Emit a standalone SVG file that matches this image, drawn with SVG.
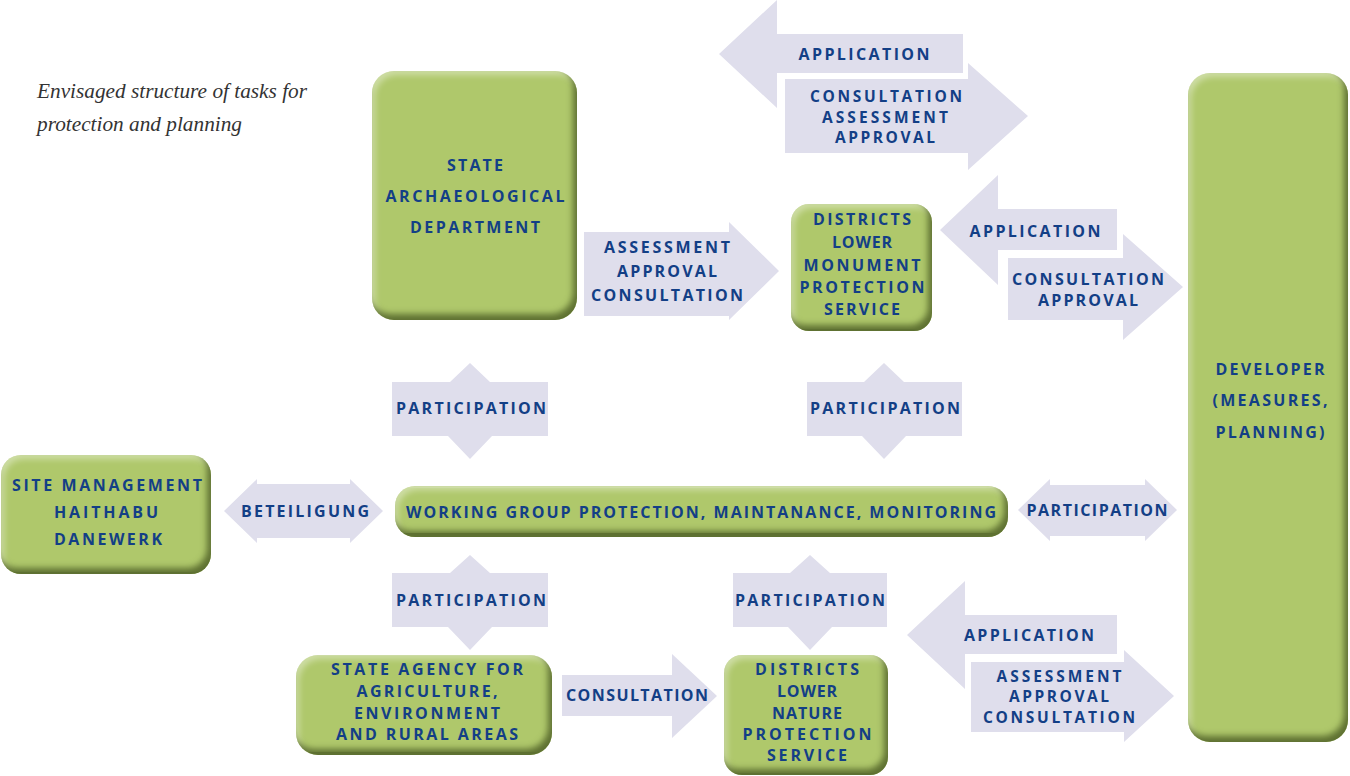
<svg xmlns="http://www.w3.org/2000/svg" width="1350" height="776" viewBox="0 0 1350 776">
  <defs>
    <!-- soft bevel: light top/left rim, dark bottom/right rim -->
    <filter id="bevel" x="-3%" y="-3%" width="106%" height="106%" color-interpolation-filters="sRGB">
      <feGaussianBlur in="SourceAlpha" stdDeviation="3" result="blur"/>
      <feOffset in="blur" dx="-4" dy="-6" result="offUL"/>
      <feComposite in="SourceAlpha" in2="offUL" operator="out" result="edgeBR"/>
      <feFlood flood-color="#55672b" flood-opacity="0.9"/>
      <feComposite in2="edgeBR" operator="in" result="dark"/>
      <feOffset in="blur" dx="3" dy="4" result="offDR"/>
      <feComposite in="SourceAlpha" in2="offDR" operator="out" result="edgeTL"/>
      <feFlood flood-color="#ffffff" flood-opacity="0.4"/>
      <feComposite in2="edgeTL" operator="in" result="light"/>
      <feMerge>
        <feMergeNode in="SourceGraphic"/>
        <feMergeNode in="light"/>
        <feMergeNode in="dark"/>
      </feMerge>
    </filter>
  </defs>
  <style>
    .box { fill: #afc86b; filter: url(#bevel); }
    .arrow { fill: #dfdeec; }
    .lbl { font-family: "Open Sans", "Noto Sans", sans-serif; font-weight: 700; font-size: 16px; fill: #133f86; text-anchor: middle; }
    .lbl.tight { font-size: 15.5px; }
    .title { font-family: "Liberation Serif", serif; font-style: italic; font-size: 21px; fill: #333333; }
  </style>

  <rect width="1350" height="776" fill="#ffffff"/>

  <g id="title">
    <text class="title" x="37" y="98" textLength="270" lengthAdjust="spacingAndGlyphs">Envisaged structure of tasks for</text>
    <text class="title" x="37" y="131" textLength="205" lengthAdjust="spacingAndGlyphs">protection and planning</text>
  </g>

  <!-- flow arrows -->
  <g id="connectors">
    <polygon class="arrow" points="719,54 777,0 777,34 963,34 963,73 777,73 777,108"/>
    <polygon class="arrow" points="785,79 968,79 968,63 1028,116 968,170 968,153 785,153"/>
    <polygon class="arrow" points="584,232 729,232 729,222 779,271 729,320 729,316 584,316"/>
    <polygon class="arrow" points="940,230 998,175 998,209 1117,209 1117,250 998,250 998,285"/>
    <polygon class="arrow" points="1008,258 1123,258 1123,234 1183,287 1123,340 1123,320 1008,320"/>
    <polygon class="arrow" points="392,382 450,382 470,363 490,382 548,382 548,436 492,436 470,459 448,436 392,436"/>
    <polygon class="arrow" points="807,382 864,382 884,363 904,382 962,382 962,436 906,436 884,459 862,436 807,436"/>
    <polygon class="arrow" points="224,511 257,479 257,484 350,484 350,479 383,511 350,543 350,538 257,538 257,543"/>
    <polygon class="arrow" points="1018,510 1050,479 1050,485 1145,485 1145,479 1177,510 1145,541 1145,536 1050,536 1050,541"/>
    <polygon class="arrow" points="392,573 450,573 470,555 490,573 548,573 548,627 492,627 470,650 448,627 392,627"/>
    <polygon class="arrow" points="733,573 790,573 810,555 830,573 887,573 887,627 832,627 810,650 788,627 733,627"/>
    <polygon class="arrow" points="562,675 672,675 672,654 717,696 672,738 672,716 562,716"/>
    <polygon class="arrow" points="907,635 965,581 965,615 1117,615 1117,654 965,654 965,689"/>
    <polygon class="arrow" points="971,662 1124,662 1124,650 1174,696 1124,742 1124,732 971,732"/>

    <text class="lbl" x="864" y="60" textLength="131" lengthAdjust="spacing">APPLICATION</text>
    <text class="lbl tight" x="886" y="102" textLength="152" lengthAdjust="spacing">CONSULTATION</text>
    <text class="lbl tight" x="885" y="123" textLength="126" lengthAdjust="spacing">ASSESSMENT</text>
    <text class="lbl tight" x="885" y="143" textLength="100" lengthAdjust="spacing">APPROVAL</text>

    <text class="lbl" x="667" y="253" textLength="126" lengthAdjust="spacing">ASSESSMENT</text>
    <text class="lbl" x="667" y="277" textLength="100" lengthAdjust="spacing">APPROVAL</text>
    <text class="lbl" x="667" y="301" textLength="152" lengthAdjust="spacing">CONSULTATION</text>

    <text class="lbl" x="1035" y="237" textLength="131" lengthAdjust="spacing">APPLICATION</text>
    <text class="lbl" x="1088" y="285" textLength="152" lengthAdjust="spacing">CONSULTATION</text>
    <text class="lbl" x="1088" y="306" textLength="100" lengthAdjust="spacing">APPROVAL</text>

    <text class="lbl" x="471" y="414" textLength="150" lengthAdjust="spacing">PARTICIPATION</text>
    <text class="lbl" x="885" y="414" textLength="150" lengthAdjust="spacing">PARTICIPATION</text>
    <text class="lbl" x="305" y="517" textLength="128" lengthAdjust="spacing">BETEILIGUNG</text>
    <text class="lbl" x="1097" y="516" textLength="141" lengthAdjust="spacing">PARTICIPATION</text>
    <text class="lbl" x="471" y="606" textLength="150" lengthAdjust="spacing">PARTICIPATION</text>
    <text class="lbl" x="810" y="606" textLength="150" lengthAdjust="spacing">PARTICIPATION</text>
    <text class="lbl" x="637" y="701" textLength="142" lengthAdjust="spacing">CONSULTATION</text>

    <text class="lbl" x="1029" y="641" textLength="130" lengthAdjust="spacing">APPLICATION</text>
    <text class="lbl tight" x="1059" y="682" textLength="125" lengthAdjust="spacing">ASSESSMENT</text>
    <text class="lbl tight" x="1059" y="702" textLength="100" lengthAdjust="spacing">APPROVAL</text>
    <text class="lbl tight" x="1059" y="723" textLength="152" lengthAdjust="spacing">CONSULTATION</text>
  </g>

  <g id="state-archaeological-department">
    <rect class="box" x="372" y="71" width="205" height="249" rx="22"/>
    <text class="lbl" x="475" y="171" textLength="56" lengthAdjust="spacing">STATE</text>
    <text class="lbl" x="475" y="202" textLength="179" lengthAdjust="spacing">ARCHAEOLOGICAL</text>
    <text class="lbl" x="475" y="233" textLength="130" lengthAdjust="spacing">DEPARTMENT</text>
  </g>

  <g id="districts-lower-monument-protection">
    <rect class="box" x="791" y="204" width="141" height="127" rx="18"/>
    <text class="lbl" x="862" y="225" textLength="98" lengthAdjust="spacing">DISTRICTS</text>
    <text class="lbl" x="862" y="248" textLength="60" lengthAdjust="spacing">LOWER</text>
    <text class="lbl" x="862" y="271" textLength="117" lengthAdjust="spacing">MONUMENT</text>
    <text class="lbl" x="862" y="293" textLength="125" lengthAdjust="spacing">PROTECTION</text>
    <text class="lbl" x="862" y="315" textLength="76" lengthAdjust="spacing">SERVICE</text>
  </g>

  <g id="developer">
    <rect class="box" x="1188" y="73" width="160" height="669" rx="22"/>
    <text class="lbl" x="1270" y="375" textLength="109" lengthAdjust="spacing">DEVELOPER</text>
    <text class="lbl" x="1270" y="406" textLength="115" lengthAdjust="spacing">(MEASURES,</text>
    <text class="lbl" x="1270" y="438" textLength="109" lengthAdjust="spacing">PLANNING)</text>
  </g>

  <g id="site-management">
    <rect class="box" x="1" y="455" width="210" height="119" rx="20"/>
    <text class="lbl" x="107" y="491" textLength="190" lengthAdjust="spacing">SITE MANAGEMENT</text>
    <text class="lbl" x="106" y="518" textLength="104" lengthAdjust="spacing">HAITHABU</text>
    <text class="lbl" x="108" y="545" textLength="108" lengthAdjust="spacing">DANEWERK</text>
  </g>

  <g id="working-group">
    <rect class="box" x="395" y="486" width="613" height="51" rx="20"/>
    <text class="lbl" x="701" y="518" textLength="590" lengthAdjust="spacing">WORKING GROUP PROTECTION, MAINTANANCE, MONITORING</text>
  </g>

  <g id="state-agency">
    <rect class="box" x="296" y="655" width="256" height="100" rx="22"/>
    <text class="lbl" x="427" y="675" textLength="192" lengthAdjust="spacing">STATE AGENCY FOR</text>
    <text class="lbl" x="427" y="697" textLength="141" lengthAdjust="spacing">AGRICULTURE,</text>
    <text class="lbl" x="427" y="719" textLength="146" lengthAdjust="spacing">ENVIRONMENT</text>
    <text class="lbl" x="427" y="740" textLength="182" lengthAdjust="spacing">AND RURAL AREAS</text>
  </g>

  <g id="districts-lower-nature-protection">
    <rect class="box" x="724" y="655" width="164" height="120" rx="18"/>
    <text class="lbl" x="807" y="675" textLength="104" lengthAdjust="spacing">DISTRICTS</text>
    <text class="lbl" x="807" y="697" textLength="60" lengthAdjust="spacing">LOWER</text>
    <text class="lbl" x="807" y="719" textLength="70" lengthAdjust="spacing">NATURE</text>
    <text class="lbl" x="807" y="740" textLength="129" lengthAdjust="spacing">PROTECTION</text>
    <text class="lbl" x="807" y="761" textLength="80" lengthAdjust="spacing">SERVICE</text>
  </g>
</svg>
